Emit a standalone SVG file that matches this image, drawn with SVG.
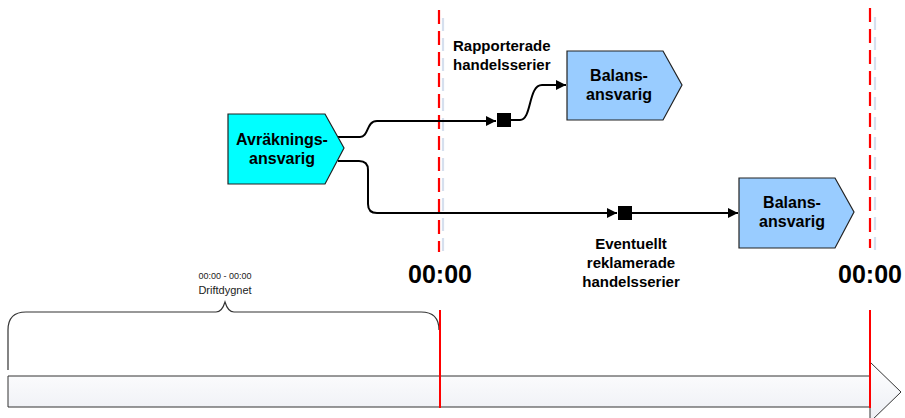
<svg xmlns="http://www.w3.org/2000/svg" width="905" height="418" viewBox="0 0 905 418">
<defs>
<style>
.node{stroke:#222;stroke-width:1.2}
.t{font-family:"Liberation Sans",Arial,sans-serif;font-weight:bold;fill:#000}
.conn{fill:none;stroke:#000;stroke-width:2}
.red{stroke:#ff0000;stroke-width:2.2;fill:none}
.blue{stroke:#d6e0ee;stroke-width:2.2;fill:none}
</style>
<marker id="ah" viewBox="0 0 10 10" refX="10" refY="5" markerWidth="10" markerHeight="10" markerUnits="userSpaceOnUse" orient="auto">
<path d="M0,0 L10,5 L0,10 Z" fill="#000"/>
</marker>
<linearGradient id="bar" x1="0" y1="0" x2="0" y2="1">
<stop offset="0" stop-color="#ffffff"/>
<stop offset="1" stop-color="#eceef4"/>
</linearGradient>
</defs>
<rect width="905" height="418" fill="#fff"/>

<g id="timelines">
<line class="blue" x1="443" y1="14" x2="443" y2="254" stroke-dasharray="13,7" stroke-dashoffset="-4"/>
<line class="red" x1="439" y1="10" x2="439" y2="252" stroke-dasharray="14,7"/>
<line class="blue" x1="875" y1="13" x2="875" y2="253" stroke-dasharray="13,7" stroke-dashoffset="-4"/>
<line class="red" x1="870" y1="8" x2="870" y2="248" stroke-dasharray="14,7"/>
</g>

<g id="connectors">
<path class="conn" d="M338,137 H360 C369,137 366,121 377,121 H496" marker-end="url(#ah)"/>
<path class="conn" d="M511,120 H520 C532,120 528,85 542,85 H566" marker-end="url(#ah)"/>
<path class="conn" d="M338,161 H359 Q368,161 368,170 V204 Q368,213 377,213 H617" marker-end="url(#ah)"/>
<path class="conn" d="M632,213 H738" marker-end="url(#ah)"/>
<rect x="497" y="113" width="14" height="14" fill="#000"/>
<rect x="618" y="206" width="14" height="14" fill="#000"/>
</g>

<g id="avrakning">
<path class="node" d="M228,114 H325 L344,148 L325,184 H228 Z" fill="#00ffff"/>
<text class="t" font-size="16" text-anchor="middle" x="282" y="145">Avräknings-</text>
<text class="t" font-size="16" text-anchor="middle" x="282" y="164">ansvarig</text>
</g>

<g id="balans1">
<path class="node" d="M567,51 H663 L682,85 L663,120 H567 Z" fill="#99ccff"/>
<text class="t" font-size="16" text-anchor="middle" x="619" y="81">Balans-</text>
<text class="t" font-size="16" text-anchor="middle" x="619" y="100">ansvarig</text>
</g>

<g id="balans2">
<path class="node" d="M739,178 H835 L854,212 L835,248 H739 Z" fill="#99ccff"/>
<text class="t" font-size="16" text-anchor="middle" x="792" y="208">Balans-</text>
<text class="t" font-size="16" text-anchor="middle" x="792" y="227">ansvarig</text>
</g>

<g id="label-rapporterade">
<text class="t" font-size="15" x="453" y="51">Rapporterade</text>
<text class="t" font-size="15" x="453" y="70">handelsserier</text>
</g>

<g id="label-eventuellt">
<text class="t" font-size="15" text-anchor="middle" x="631" y="249">Eventuellt</text>
<text class="t" font-size="15" text-anchor="middle" x="631" y="268">reklamerade</text>
<text class="t" font-size="15" text-anchor="middle" x="631" y="287">handelsserier</text>
</g>

<g id="time-labels">
<text class="t" font-size="25" text-anchor="middle" x="440" y="283">00:00</text>
<text class="t" font-size="25" text-anchor="middle" x="870" y="283">00:00</text>
</g>

<g id="timebar">
<path d="M8,376 H870 V362 L901,392 L870,422 V407 H8 Z" fill="url(#bar)" stroke="#333" stroke-width="1"/>
</g>

<g id="brace">
<path d="M8,370 V330 Q8,312 26,312 H216 Q222,312 225,302 Q228,312 234,312 H421 Q439,312 439,330" fill="none" stroke="#333" stroke-width="1.2"/>
<text font-family="'Liberation Sans',Arial,sans-serif" font-size="9" text-anchor="middle" x="225" y="279" fill="#222">00:00 - 00:00</text>
<text font-family="'Liberation Sans',Arial,sans-serif" font-size="11" text-anchor="middle" x="225" y="294" fill="#222">Driftdygnet</text>
</g>

<g id="red-solid">
<line x1="440" y1="310" x2="440" y2="408" stroke="#ff0000" stroke-width="2"/>
<line x1="870" y1="310" x2="870" y2="408" stroke="#ff0000" stroke-width="2"/>
</g>
</svg>
